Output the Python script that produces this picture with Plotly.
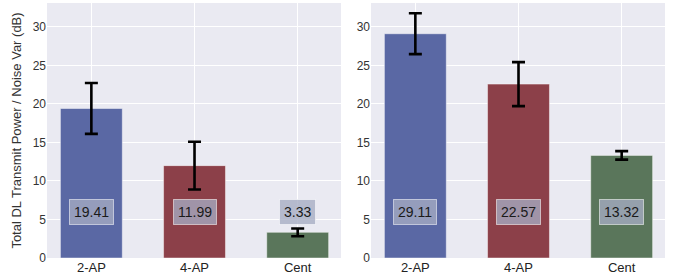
import plotly.graph_objects as go
from plotly.subplots import make_subplots

categories = ["2-AP", "4-AP", "Cent"]
left_values = [19.41, 11.99, 3.33]
left_errors = [3.3, 3.1, 0.5]
right_values = [29.11, 22.57, 13.32]
right_errors = [2.65, 2.85, 0.55]
bar_colors = ["#5a68a4", "#8c4049", "#5a765b"]
y_ticks = [0, 5, 10, 15, 20, 25, 30]
label_y = 6

FONT = "Arial, Liberation Sans, sans-serif"

fig = make_subplots(rows=1, cols=2, horizontal_spacing=0.0485)

for col, (vals, errs) in enumerate([(left_values, left_errors), (right_values, right_errors)], start=1):
    fig.add_trace(go.Bar(
        x=categories, y=vals,
        width=0.6,
        marker=dict(color=bar_colors, line=dict(color="rgba(255,255,255,0.45)", width=1)),
        error_y=dict(type="data", array=errs, visible=True, color="black", thickness=2.6, width=6.5),
        showlegend=False,
    ), row=1, col=col)
    xref = "x" if col == 1 else "x2"
    yref = "y" if col == 1 else "y2"
    for c, v in zip(categories, vals):
        fig.add_annotation(
            x=c, y=label_y, xref=xref, yref=yref, text=f"{v:.2f}", showarrow=False,
            font=dict(family=FONT, size=14, color="#1a1a1a"),
            bgcolor="rgba(165,172,195,0.78)", bordercolor="rgba(255,255,255,0.55)",
            borderwidth=1, borderpad=4,
        )

axis_common = dict(
    showgrid=True, gridcolor="white", gridwidth=1, zeroline=False,
    showline=False, ticks="", tickfont=dict(family=FONT, size=12, color="#333333"),
)
for col in (1, 2):
    fig.update_xaxes(axis_common, range=[-0.43, 2.42], row=1, col=col,
                     tickfont=dict(family=FONT, size=13, color="#222222"))
    fig.update_yaxes(axis_common, range=[0, 33.1], tickvals=y_ticks, row=1, col=col)

fig.update_yaxes(title=dict(text="Total DL Transmit Power / Noise Var (dB)",
                            font=dict(family=FONT, size=13, color="#333333"), standoff=8),
                 row=1, col=1)

fig.update_layout(
    width=678, height=277,
    margin=dict(l=47, r=13, t=3, b=19),
    paper_bgcolor="white", plot_bgcolor="#eaeaf2",
    font=dict(family=FONT),
)

fig.write_html("out.html", config={"displayModeBar": False},
               post_script="document.body.style.margin='0';")
